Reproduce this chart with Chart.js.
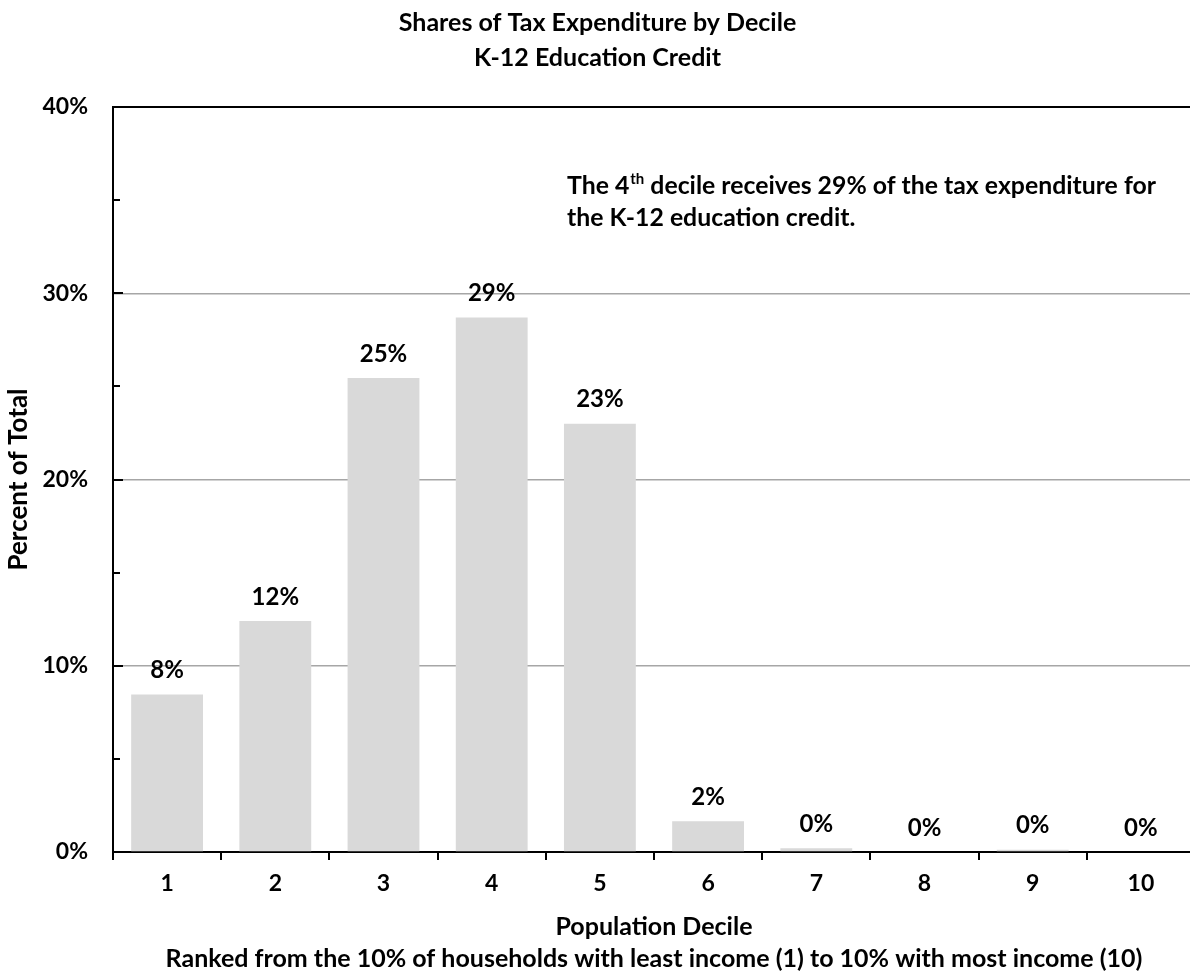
<!DOCTYPE html>
<html>
<head>
<meta charset="utf-8">
<script src="https://cdn.jsdelivr.net/npm/chart.js@4.4.1/dist/chart.umd.min.js"></script>
<style>
  html, body { margin: 0; padding: 0; background: #ffffff; overflow: hidden; }
  #wrap { width: 1198px; height: 975px; }
</style>
</head>
<body>
<div id="wrap"><canvas id="c" width="1198" height="975"></canvas></div>
<script>
const categories = ['1', '2', '3', '4', '5', '6', '7', '8', '9', '10'];
const shares = [8.45, 12.4, 25.45, 28.7, 23.0, 1.65, 0.2, 0.0, 0.12, 0.0];
const titleLines = ['Shares of Tax Expenditure by Decile', 'K-12 Education Credit'];
const xTitleLines = ['Population Decile', 'Ranked from the 10% of households with least income (1) to 10% with most income (10)'];
const yTitle = 'Percent of Total';
const notePart1 = 'The 4';
const noteSup = 'th';
const notePart2 = ' decile receives 29% of the tax expenditure for';
const noteLine2 = 'the K-12 education credit.';

const FONT = "Lato, 'Open Sans', sans-serif";

const innerTicks = {
  id: 'innerTicks',
  afterDraw(chart) {
    const ctx = chart.ctx, y = chart.scales.y, left = chart.chartArea.left;
    ctx.save();
    ctx.strokeStyle = '#000';
    ctx.lineWidth = 2;
    y.ticks.forEach(t => {
      const py = Math.round(y.getPixelForValue(t.value));
      const len = (t.value % 10 === 0) ? 10 : 7;
      ctx.beginPath();
      ctx.moveTo(left, py);
      ctx.lineTo(left + len, py);
      ctx.stroke();
    });
    ctx.restore();
  }
};

const valueLabels = {
  id: 'valueLabels',
  afterDatasetsDraw(chart) {
    const ctx = chart.ctx;
    const meta = chart.getDatasetMeta(0);
    ctx.save();
    ctx.font = 'bold 24px ' + FONT;
    ctx.fillStyle = '#000';
    ctx.textAlign = 'center';
    ctx.textBaseline = 'middle';
    meta.data.forEach((el, i) => {
      ctx.fillText(Math.round(shares[i]) + '%', el.x, el.y - 24);
    });
    ctx.restore();
  }
};

const note = {
  id: 'note',
  afterDraw(chart) {
    const ctx = chart.ctx;
    ctx.save();
    ctx.fillStyle = '#000';
    ctx.textBaseline = 'alphabetic';
    ctx.textAlign = 'left';
    let x = 567;
    const y1 = 194, y2 = 226;
    ctx.font = 'bold 24.8px ' + FONT;
    ctx.fillText(notePart1, x, y1);
    x += ctx.measureText(notePart1).width;
    ctx.font = 'bold 15px ' + FONT;
    ctx.fillText(noteSup, x + 1, y1 - 10);
    x += ctx.measureText(noteSup).width + 1;
    ctx.font = 'bold 24.8px ' + FONT;
    ctx.fillText(notePart2, x, y1);
    ctx.fillText(noteLine2, 567, y2);
    ctx.restore();
  }
};

new Chart(document.getElementById('c'), {
  type: 'bar',
  data: {
    labels: categories,
    datasets: [{
      data: shares,
      backgroundColor: '#d9d9d9',
      borderWidth: 0,
      barPercentage: 0.664,
      categoryPercentage: 1.0
    }]
  },
  plugins: [innerTicks, valueLabels, note],
  options: {
    responsive: false,
    animation: false,
    layout: { padding: { left: 0, right: 3, top: 1, bottom: 0 } },
    plugins: {
      legend: { display: false },
      tooltip: { enabled: false },
      title: {
        display: true,
        text: titleLines,
        color: '#000',
        font: { family: FONT, size: 25, weight: 'bold', lineHeight: 35 / 25 },
        padding: { top: 4, bottom: 32 }
      }
    },
    scales: {
      x: {
        afterFit(scale) { scale.height = 123; },
        grid: {
          offset: true,
          drawOnChartArea: false,
          drawTicks: true,
          tickLength: 8,
          tickColor: '#000',
          tickWidth: 2,
          lineWidth: 2
        },
        border: { display: true, color: '#000', width: 2 },
        ticks: {
          color: '#000',
          padding: 10,
          font: { family: FONT, size: 23, weight: 'bold' }
        },
        title: {
          display: true,
          text: xTitleLines,
          color: '#000',
          font: { family: FONT, size: 25, weight: 'bold', lineHeight: 32 / 25 },
          padding: { top: 0, bottom: 0 }
        }
      },
      y: {
        min: 0,
        max: 40,
        afterFit(scale) { scale.width = 113; },
        grid: {
          drawTicks: false,
          color(ctx) {
            const v = ctx.tick ? ctx.tick.value : null;
            if (v === 40) return '#000';
            if (v === 10 || v === 20 || v === 30) return '#a6a6a6';
            return 'rgba(0,0,0,0)';
          },
          lineWidth(ctx) {
            const v = ctx.tick ? ctx.tick.value : null;
            return v === 40 ? 2 : 1.5;
          }
        },
        border: { display: true, color: '#000', width: 2 },
        ticks: {
          stepSize: 5,
          padding: 25,
          color: '#000',
          font: { family: FONT, size: 23, weight: 'bold' },
          callback(v) { return v % 10 === 0 ? v + '%' : ''; }
        },
        title: {
          display: true,
          text: yTitle,
          color: '#000',
          font: { family: FONT, size: 26, weight: 'bold', lineHeight: 1.2 },
          padding: { top: 3, bottom: 0 }
        }
      }
    }
  }
});
</script>
</body>
</html>
